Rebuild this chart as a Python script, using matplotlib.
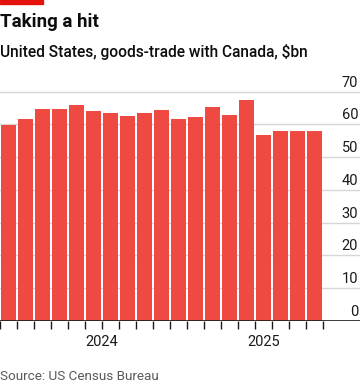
import matplotlib
matplotlib.use("Agg")
import matplotlib.pyplot as plt
import matplotlib.transforms as mtransforms
from matplotlib.patches import Rectangle

months = ["Jan 2024", "Feb 2024", "Mar 2024", "Apr 2024", "May 2024", "Jun 2024",
          "Jul 2024", "Aug 2024", "Sep 2024", "Oct 2024", "Nov 2024", "Dec 2024",
          "Jan 2025", "Feb 2025", "Mar 2025", "Apr 2025", "May 2025", "Jun 2025", "Jul 2025"]
values = [59.7, 61.5, 64.6, 64.8, 65.8, 64.0, 63.5, 62.5, 63.6, 64.3, 61.7,
          62.2, 65.3, 62.9, 67.5, 56.9, 57.9, 57.9, 57.9]
yticks = [0, 10, 20, 30, 40, 50, 60, 70]
year_labels = ["2024", "2025"]

plt.rcParams['font.family'] = ['Roboto', 'DejaVu Sans']

W, H = 360, 387
fig = plt.figure(figsize=(W / 100, H / 100), dpi=100)

ax_bottom = 321
ax_top = 80
ax = fig.add_axes([0, (H - ax_bottom) / H, 1.0, (ax_bottom - ax_top) / H])

n = len(values)
x = list(range(n))
ax.bar(x, values, width=0.88, color='#ef4a42', zorder=3)

ax.set_xlim(-0.5, -0.5 + W / 17.0)
ax.set_ylim(0, (ax_bottom - ax_top) / 3.277)

for s in ax.spines.values():
    s.set_visible(False)

trans = mtransforms.blended_transform_factory(ax.transAxes, ax.transData)
for t in yticks:
    if t == 0:
        ax.axhline(0, color='#1a1a1a', lw=1.2, zorder=4)
    else:
        ax.axhline(t, color='#d6d6d6', lw=1.0, zorder=1)
    ax.text(0.995, t + 0.6, str(t), transform=trans, ha='right', va='bottom',
            fontsize=10.5, color='#1a1a1a')

ax.set_yticks([])

bounds = [i - 0.5 for i in range(n + 1)]
ax.set_xticks(bounds)
ax.set_xticklabels([])
ax.tick_params(axis='x', length=6, width=1.0, color='#1a1a1a')
year_starts = [-0.5, 11.5]
ax.set_xticks(year_starts, minor=True)
ax.tick_params(axis='x', which='minor', length=9, width=1.0, color='#1a1a1a')

trans_x = mtransforms.blended_transform_factory(ax.transData, ax.transAxes)
year_centers = [5.5, 15.0]
for lab, c in zip(year_labels, year_centers):
    ax.text(c, -21 / (ax_bottom - ax_top), lab, transform=trans_x, ha='center',
            va='center', fontsize=10.5, color='#1a1a1a')

fig.patches.append(Rectangle((0, 1 - 4 / H), 43 / W, 4 / H, transform=fig.transFigure,
                             color='#e3120b', zorder=5))
fig.text(0.0, 1 - 22 / H, "Taking a hit", fontsize=13.5, fontweight='bold',
         color='#0d0d0d', ha='left', va='center')
fig.text(0.0, 1 - 52 / H, "United States, goods-trade with Canada, $bn", fontsize=11.2,
         fontweight='medium', color='#0d0d0d', ha='left', va='center')
fig.text(0.0, 1 - 377 / H, "Source: US Census Bureau", fontsize=9.7,
         color='#595959', ha='left', va='center')

fig.savefig("out.png", dpi=100)
